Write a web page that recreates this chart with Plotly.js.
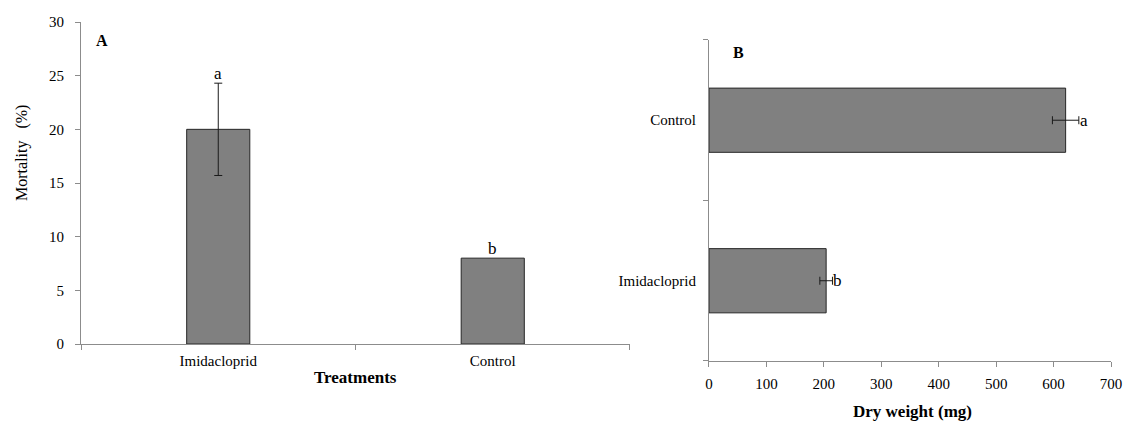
<!DOCTYPE html>
<html>
<head>
<meta charset="utf-8">
<script src="https://cdn.plot.ly/plotly-3.0.1.min.js"></script>
<style>html,body{margin:0;padding:0;background:#fff;}#chart{width:1130px;height:424px;}</style>
</head>
<body>
<div id="chart"></div>
<script>
// Panel A: mortality
const treatmentsA = ["Imidacloprid", "Control"];
const mortality = [20, 8];
const mortalityErr = [4.3, NaN];
const lettersA = ["a", "b"];

// Panel B: dry weight
const treatmentsB = ["Imidacloprid", "Control"];
const dryWeight = [204, 621];
const dryWeightErr = [11, 23];
const lettersB = ["b", "a"];

const yTicksA = [0, 5, 10, 15, 20, 25, 30];
const xTicksB = [0, 100, 200, 300, 400, 500, 600, 700];

const FONT = "Liberation Serif, Times New Roman, serif";
const AX = "#8c8c8c";

const traces = [
  {
    type: "bar", x: treatmentsA, y: mortality, xaxis: "x", yaxis: "y",
    width: 0.23,
    marker: {color: "#808080", line: {color: "#262626", width: 1}},
    error_y: {type: "data", array: mortalityErr, visible: true, color: "#1a1a1a", thickness: 1, width: 4},
    hoverinfo: "none"
  },
  {
    type: "bar", orientation: "h", y: treatmentsB, x: dryWeight, xaxis: "x2", yaxis: "y2",
    width: 0.4,
    marker: {color: "#808080", line: {color: "#262626", width: 1}},
    error_x: {type: "data", array: dryWeightErr, visible: true, color: "#1a1a1a", thickness: 1, width: 4},
    hoverinfo: "none"
  }
];

const annotations = [];
treatmentsA.forEach((c, i) => {
  const e = isNaN(mortalityErr[i]) ? 0 : mortalityErr[i];
  annotations.push({xref: "x", yref: "y", x: c, y: mortality[i] + e, text: lettersA[i],
    showarrow: false, xanchor: "center", yanchor: "bottom", yshift: -2, font: {family: FONT, size: 17, color: "#000"}});
});
treatmentsB.forEach((c, i) => {
  annotations.push({xref: "x2", yref: "y2", x: dryWeight[i] + dryWeightErr[i], y: c, text: lettersB[i],
    showarrow: false, xanchor: "left", yanchor: "middle", xshift: -1, font: {family: FONT, size: 17, color: "#000"}});
});
const P = (x, y, text, size, extra) => Object.assign({xref: "paper", yref: "paper", x: x, y: y, text: text,
  showarrow: false, xanchor: "center", yanchor: "middle", font: {family: FONT, size: size, color: "#000"}}, extra || {});
annotations.push(
  P(0.0204, 0.944, "<b>A</b>", 16),
  P(0.638, 0.9086, "<b>B</b>", 16),
  P(0.2665, -0.05, "<b>Treatments</b>", 17),
  P(0.8068, -0.1504, "<b>Dry weight (mg)</b>", 17),
  P(-0.0573, 0.6136, "Mortality\u00a0\u00a0 (%)", 16, {textangle: -90})
);

const layout = {
  width: 1130, height: 424,
  margin: {l: 81, r: 19, t: 22, b: 63},
  paper_bgcolor: "#fff", plot_bgcolor: "#fff",
  showlegend: false,
  font: {family: FONT, size: 15, color: "#000"},
  xaxis: {
    domain: [0, 0.533], anchor: "y", type: "category", range: [-0.5, 1.5],
    showline: true, linecolor: AX, linewidth: 1, ticks: "outside", tickson: "boundaries",
    ticklen: 5, tickcolor: AX, showgrid: false, zeroline: false, ticklabelstandoff: 3,
    tickfont: {family: FONT, size: 15, color: "#000"}
  },
  yaxis: {
    domain: [0.0501, 1], anchor: "x", range: [0, 30], tickvals: yTicksA,
    showline: true, linecolor: AX, linewidth: 1, ticks: "outside", ticklen: 5, tickcolor: AX,
    showgrid: false, zeroline: false, ticklabelstandoff: 8,
    tickfont: {family: FONT, size: 15, color: "#000"}
  },
  xaxis2: {
    domain: [0.6097, 1], anchor: "y2", range: [0, 700], tickvals: xTicksB,
    showline: true, linecolor: AX, linewidth: 1, ticks: "outside", ticklen: 5, tickcolor: AX,
    showgrid: false, zeroline: false, ticklabelstandoff: 4,
    tickfont: {family: FONT, size: 15, color: "#000"}
  },
  yaxis2: {
    domain: [0, 0.947], anchor: "x2", type: "category", range: [-0.5, 1.5],
    showline: true, linecolor: AX, linewidth: 1, ticks: "outside", tickson: "boundaries",
    ticklen: 5, tickcolor: AX, showgrid: false, zeroline: false, ticklabelstandoff: 9,
    tickfont: {family: FONT, size: 15, color: "#000"}
  },
  annotations: annotations
};

Plotly.newPlot("chart", traces, layout, {displayModeBar: false, staticPlot: true});
</script>
</body>
</html>
